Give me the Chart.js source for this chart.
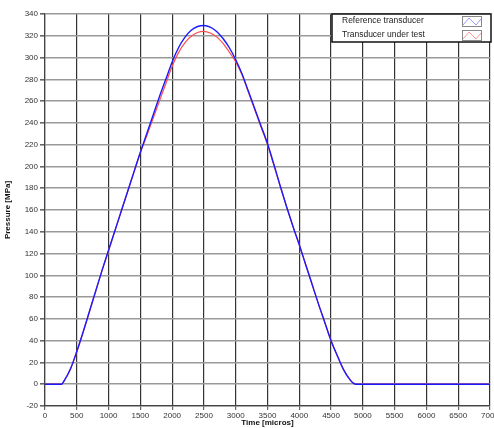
<!DOCTYPE html>
<html>
<head>
<meta charset="utf-8">
<script src="https://cdn.jsdelivr.net/npm/chart.js@4"></script>
<style>
  html, body { margin: 0; padding: 0; background: #fff; }
  #wrap { width: 494px; height: 428px; }
</style>
</head>
<body>
<div id="wrap"><canvas id="chart" width="494" height="428"></canvas></div>
<script>
// ─── Data ────────────────────────────────────────────────
const times = [0, 100, 200, 260, 300, 400, 500, 600, 700, 800, 900, 1000, 1100, 1200, 1300, 1400,
  1500, 1600, 1700, 1800, 1900, 2000, 2100, 2200, 2300, 2400, 2500, 2600, 2700, 2800, 2900, 3000,
  3100, 3200, 3300, 3400, 3500, 3600, 3700, 3800, 3900, 4000, 4100, 4200, 4300, 4400, 4500, 4600,
  4700, 4800, 4850, 4900, 5000, 5250, 5500, 5750, 6000, 6250, 6500, 6750, 7000];

const referenceValues = [0, 0, 0, 0, 3, 14, 30, 48, 67, 86, 105, 123, 141, 159, 177, 195,
  213, 230, 247, 264, 280, 296, 309, 318.5, 325, 328.5, 329.5, 328, 324, 317.5, 309, 298,
  285, 269, 253, 237, 221, 202, 182, 163, 145, 128, 110, 92, 74, 57, 40, 26,
  13, 4, 1, 0, 0, 0, 0, 0, 0, 0, 0, 0, 0];

const testValues = [0, 0, 0, 0, 3, 14, 30, 48, 67, 86, 105, 123, 141, 159, 177, 195,
  213, 228, 244, 260, 276, 292, 304.5, 313.5, 319.5, 323, 324, 322.5, 319, 313, 305, 296,
  284, 268, 252, 236, 220, 201, 182, 163, 145, 128, 110, 92, 74, 57, 40, 26,
  13, 4, 1, 0, 0, 0, 0, 0, 0, 0, 0, 0, 0];

const seriesLabels = ['Reference transducer', 'Transducer under test'];
const seriesColors = ['#1a1aff', '#ff4d4d'];

const toPoints = vals => times.map((t, i) => ({ x: t, y: vals[i] }));

// ─── Legend box drawn top-right (like the original) ──────
const boxLegend = {
  id: 'boxLegend',
  afterDraw(chart) {
    const c = chart.ctx;
    const x0 = 332, y0 = 14, w = 159, h = 28;
    c.save();
    c.fillStyle = '#fff';
    c.fillRect(x0, y0, w, h);
    c.strokeStyle = '#111';
    c.lineWidth = 1.5;
    c.strokeRect(x0, y0, w, h);
    c.font = '8.5px "Liberation Sans", Arial, sans-serif';
    c.textBaseline = 'middle';
    c.fillStyle = '#222';
    seriesLabels.forEach((lbl, i) => {
      const cy = y0 + 7 + i * 14;
      c.fillText(lbl, x0 + 10, cy);
      // icon box
      const ix = 462, iy = cy - 5;
      c.strokeStyle = '#888';
      c.lineWidth = 1;
      c.strokeRect(ix + 0.5, iy + 0.5, 19, 10);
      c.strokeStyle = i === 0 ? '#9999ff' : '#ff9999';
      c.beginPath();
      c.moveTo(ix + 1, iy + 9);
      c.lineTo(ix + 7, iy + 2);
      c.lineTo(ix + 14, iy + 9);
      c.lineTo(ix + 19, iy + 3);
      c.stroke();
    });
    c.restore();
  }
};

const tickFont = { family: '"Liberation Sans", Arial, sans-serif', size: 8 };
const titleFont = { family: '"Liberation Sans", Arial, sans-serif', size: 8, weight: 'bold' };

new Chart(document.getElementById('chart'), {
  type: 'line',
  data: {
    datasets: [
      {
        label: seriesLabels[0],
        data: toPoints(referenceValues),
        borderColor: seriesColors[0],
        borderWidth: 1.4,
        pointRadius: 0,
        cubicInterpolationMode: 'monotone',
        fill: false
      },
      {
        label: seriesLabels[1],
        data: toPoints(testValues),
        borderColor: seriesColors[1],
        borderWidth: 1.2,
        pointRadius: 0,
        cubicInterpolationMode: 'monotone',
        fill: false
      }
    ]
  },
  options: {
    responsive: false,
    animation: false,
    layout: { padding: { top: 14, right: 4, left: 0, bottom: 0 } },
    plugins: {
      legend: { display: false },
      tooltip: { enabled: false }
    },
    scales: {
      x: {
        type: 'linear',
        min: 0,
        max: 7000,
        ticks: {
          stepSize: 500, font: tickFont, color: '#333', padding: 1, maxRotation: 0, autoSkip: false,
          callback: v => String(v)
        },
        grid: { color: '#333', lineWidth: 1.2, tickLength: 4, tickColor: '#666' },
        border: { color: '#444', width: 1.2 },
        title: { display: true, text: 'Time [micros]', font: titleFont, color: '#111', padding: { top: 0, bottom: 0 } },
        afterFit(scale) {
          scale.height = 22;
          scale.paddingLeft = 0;
          scale.paddingRight = 0;
        }
      },
      y: {
        min: -20,
        max: 340,
        ticks: { stepSize: 20, font: tickFont, color: '#333', padding: 2, callback: v => String(v) },
        grid: { color: '#999', lineWidth: 1.6, tickLength: 5, tickColor: '#666' },
        border: { color: '#444', width: 1.2 },
        title: { display: true, text: 'Pressure [MPa]', font: titleFont, color: '#111', padding: { top: 3, bottom: 0 } },
        afterFit(scale) {
          scale.width = 45;
          scale.paddingTop = 0;
          scale.paddingBottom = 0;
        }
      }
    }
  },
  plugins: [boxLegend]
});
</script>
</body>
</html>
